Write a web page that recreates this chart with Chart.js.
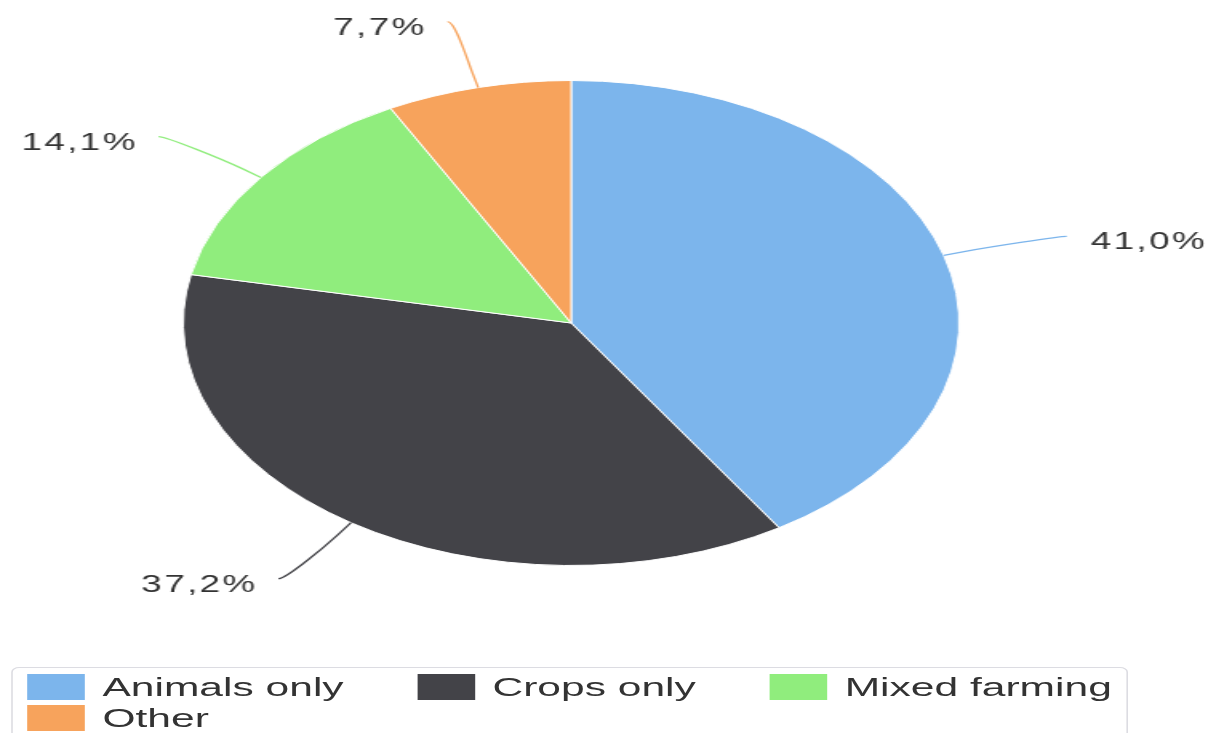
<!DOCTYPE html>
<html>
<head>
<meta charset="utf-8">
<script src="https://cdn.jsdelivr.net/npm/chart.js@4.4.0/dist/chart.umd.min.js"></script>
<style>
    html, body { margin: 0; padding: 0; background: #fff; overflow: hidden; }
    #wrap { position: relative; width: 763px; height: 733px; transform: scaleX(1.6); transform-origin: 0 0; }
    #pie { position: absolute; left: 0; top: 0; }
    #legend {
        position: absolute; left: 7px; top: 667px; width: 698px; height: 90px;
        box-sizing: border-box; border: 1px solid #dcdce2; border-radius: 5px;
        padding: 6px 0 0 9px;
        font-family: "Liberation Sans", Arial, sans-serif; font-size: 26.6px; color: #333;
    }
    .row { display: flex; column-gap: 46px; margin-bottom: 5px; white-space: nowrap; }
    .item { display: flex; align-items: center; height: 26px; }
    .swatch { width: 36px; height: 26px; margin-right: 11px; }
</style>
</head>
<body>
<div id="wrap">
    <canvas id="pie" width="763" height="660"></canvas>
    <div id="legend"></div>
</div>
<script>
const categories = ['Animals only', 'Crops only', 'Mixed farming', 'Other'];
const shares = [41.0, 37.2, 14.1, 7.7];
const colors = ['#7cb5ec', '#434348', '#90ed7d', '#f7a35c'];
const itemsPerRow = 3;

function fmt(v) {
    return v.toFixed(1).replace('.', ',') + '%';
}

// labels outside the pie with soft connectors (like the original)
const pieLabels = {
    id: 'pieLabels',
    afterDatasetsDraw(chart) {
        const ctx = chart.ctx;
        const meta = chart.getDatasetMeta(0);
        meta.data.forEach((arc, i) => {
            const p = arc.getProps(['x', 'y', 'startAngle', 'endAngle', 'outerRadius'], true);
            const mid = (p.startAngle + p.endAngle) / 2;
            const cos = Math.cos(mid);
            const sin = Math.sin(mid);
            const r = p.outerRadius;
            const tx = p.x + r * cos, ty = p.y + r * sin;
            const bx = p.x + (r + 15) * cos, by = p.y + (r + 15) * sin;
            const ex = p.x + (r + 80) * cos;
            const ey = Math.max(p.y + (r + 68) * sin, 19);
            const right = cos >= 0;

            ctx.save();
            ctx.strokeStyle = colors[i];
            ctx.lineWidth = 1.3;
            ctx.beginPath();
            ctx.moveTo(ex, ey);
            ctx.bezierCurveTo(ex + (right ? -5 : 5), ey, 2 * bx - tx, 2 * by - ty, bx, by);
            ctx.lineTo(tx, ty);
            ctx.stroke();

            ctx.fillStyle = '#333333';
            ctx.font = '23px "Liberation Sans", Arial, sans-serif';
            ctx.letterSpacing = '1.5px';
            ctx.textBaseline = 'alphabetic';
            ctx.textAlign = right ? 'left' : 'right';
            ctx.fillText(fmt(shares[i]), right ? ex + 15 : ex - 13, ey + 13);
            ctx.restore();
        });
    }
};

new Chart(document.getElementById('pie').getContext('2d'), {
    type: 'pie',
    data: {
        labels: categories,
        datasets: [{
            data: shares,
            backgroundColor: colors,
            borderColor: '#ffffff',
            borderWidth: 1
        }]
    },
    options: {
        responsive: false,
        animation: false,
        layout: { padding: { top: 80, bottom: 94, left: 114, right: 163 } },
        plugins: {
            legend: { display: false },
            tooltip: { enabled: false }
        }
    },
    plugins: [pieLabels]
});

// legend, left aligned rows like the original
const legend = document.getElementById('legend');
let row;
categories.forEach((name, i) => {
    if (i % itemsPerRow === 0) {
        row = document.createElement('div');
        row.className = 'row';
        legend.appendChild(row);
    }
    const item = document.createElement('div');
    item.className = 'item';
    item.innerHTML = '<span class="swatch" style="background:' + colors[i] + '"></span><span>' + name + '</span>';
    row.appendChild(item);
});
</script>
</body>
</html>
